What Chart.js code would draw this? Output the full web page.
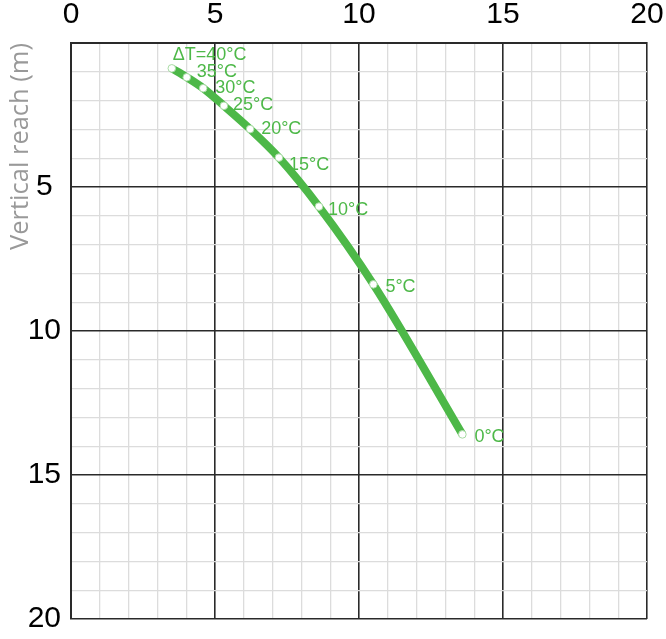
<!DOCTYPE html>
<html>
<head>
<meta charset="utf-8">
<script src="https://cdn.jsdelivr.net/npm/chart.js@4.4.1/dist/chart.umd.min.js"></script>
<style>
  html, body { margin: 0; padding: 0; background: #fff; }
  #wrap { width: 666px; height: 639px; position: relative; }
</style>
</head>
<body>
<div id="wrap"><canvas id="c" width="666" height="639"></canvas></div>
<script>
// ---- data ----
const deltaT = [40, 35, 30, 25, 20, 15, 10, 5, 0];
const pointLabels = ['ΔT=40°C', '35°C', '30°C', '25°C', '20°C', '15°C', '10°C', '5°C', '0°C'];
const horizontalReach = [3.50, 4.02, 4.59, 5.31, 6.22, 7.22, 8.61, 10.50, 13.59];
const verticalReach = [0.88, 1.19, 1.57, 2.18, 2.99, 3.98, 5.68, 8.38, 13.59];
const xTicks = [0, 5, 10, 15, 20];
const yTicks = [5, 10, 15, 20];
const axisTitleY = 'Vertical reach (m)';

const GREEN = '#4db848';

// label offsets (pixels) relative to each point
const labelOffsets = [[1, -13], [10, -5], [12, 0], [9, -1], [11, 0], [10, 7], [9, 3], [12, 3], [12, 3]];

const labelPlugin = {
  id: 'pointLabels',
  afterDatasetsDraw(chart) {
    const meta = chart.getDatasetMeta(0);
    const ctx = chart.ctx;
    ctx.save();
    ctx.font = '18px "Liberation Sans", Arial, sans-serif';
    ctx.fillStyle = GREEN;
    ctx.textAlign = 'left';
    ctx.textBaseline = 'middle';
    meta.data.forEach((pt, i) => {
      const off = labelOffsets[i] || [10, 0];
      ctx.fillText(pointLabels[i], pt.x + off[0], pt.y + off[1]);
    });
    ctx.restore();
  }
};

const yTitlePlugin = {
  id: 'yTitle',
  afterDraw(chart) {
    const ctx = chart.ctx;
    const area = chart.chartArea;
    ctx.save();
    ctx.translate(21, area.top);
    ctx.rotate(-Math.PI / 2);
    ctx.font = '25.5px "Open Sans", sans-serif';
    ctx.fillStyle = '#999999';
    ctx.textAlign = 'right';
    ctx.textBaseline = 'middle';
    ctx.fillText(axisTitleY, 0, 0);
    ctx.restore();
  }
};

const gridColor = (ctx) => (ctx.tick && ctx.tick.value % 5 === 0) ? '#2a2a2a' : '#dcdcdc';
const gridWidth = (ctx) => (ctx.tick && ctx.tick.value % 5 === 0) ? 1.6 : 1.3;

new Chart(document.getElementById('c'), {
  type: 'line',
  data: {
    datasets: [{
      data: horizontalReach.map((x, i) => ({ x: x, y: verticalReach[i] })),
      borderColor: GREEN,
      borderWidth: 8,
      cubicInterpolationMode: 'monotone',
      pointRadius: 3.8,
      pointBackgroundColor: '#ffffff',
      pointBorderColor: '#a8dba4',
      pointBorderWidth: 1,
      fill: false
    }]
  },
  options: {
    responsive: false,
    animation: false,
    layout: { padding: { left: 0, right: 19, top: 0, bottom: 20 } },
    plugins: { legend: { display: false }, tooltip: { enabled: false } },
    scales: {
      x: {
        type: 'linear',
        position: 'top',
        min: 0, max: 20,
        afterFit: (s) => { s.height = 43; s.paddingLeft = 0; s.paddingRight = 0; },
        ticks: {
          stepSize: 1,
          autoSkip: false,
          maxRotation: 0,
          padding: 10,
          color: '#000',
          font: { family: '"Liberation Sans", Arial, sans-serif', size: 30 },
          callback: (v) => xTicks.includes(v) ? String(v) : ''
        },
        grid: { color: gridColor, lineWidth: gridWidth, drawTicks: false },
        border: { color: '#2a2a2a', width: 2 }
      },
      y: {
        type: 'linear',
        reverse: true,
        min: 0, max: 20,
        afterFit: (s) => { s.width = 71; s.paddingTop = 0; s.paddingBottom = 0; },
        ticks: {
          stepSize: 1,
          autoSkip: false,
          padding: 10,
          crossAlign: 'center',
          color: '#000',
          font: { family: '"Liberation Sans", Arial, sans-serif', size: 30 },
          callback: (v) => yTicks.includes(v) ? String(v) : ''
        },
        grid: { color: gridColor, lineWidth: gridWidth, drawTicks: false },
        border: { color: '#2a2a2a', width: 2 }
      }
    }
  },
  plugins: [labelPlugin, yTitlePlugin]
});
</script>
</body>
</html>
